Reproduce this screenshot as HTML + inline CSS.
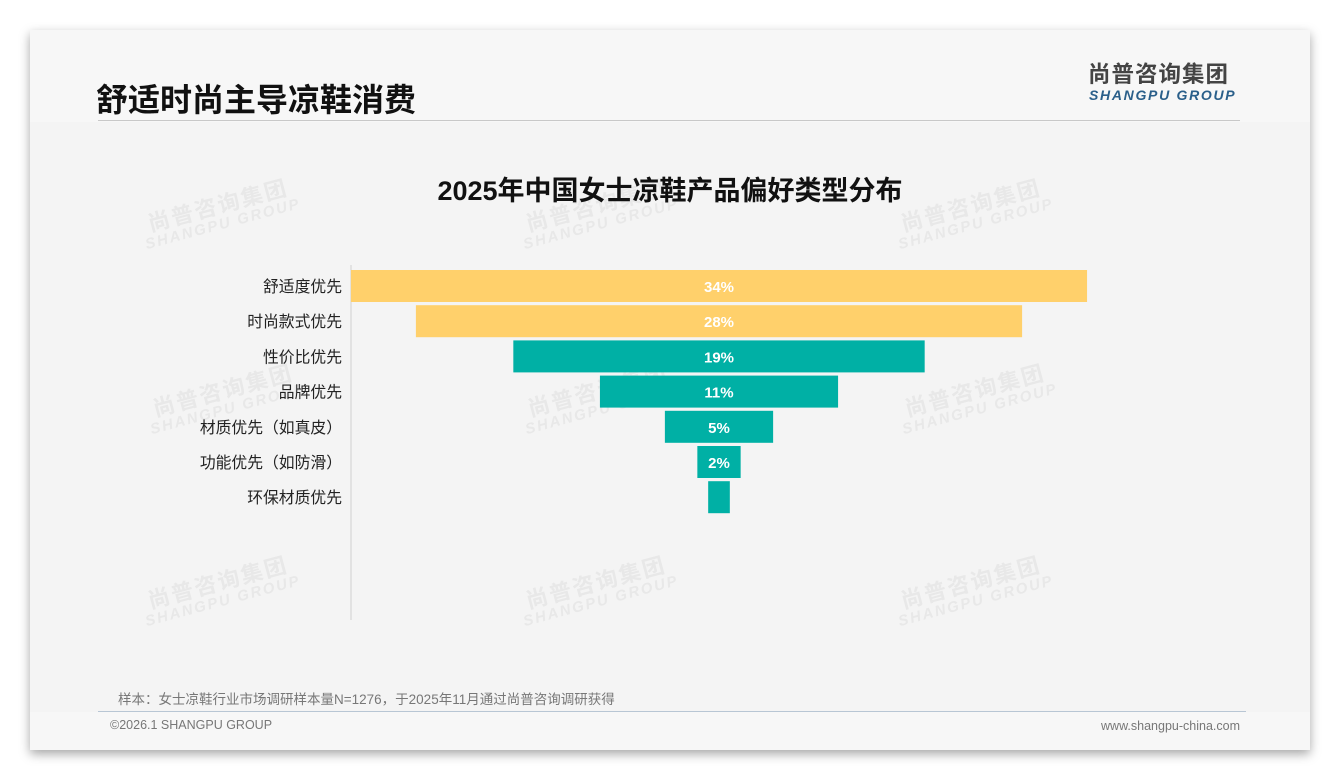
<!DOCTYPE html>
<html><head><meta charset="utf-8">
<style>
body{margin:0;width:1340px;height:780px;background:#fff;position:relative;overflow:hidden;font-family:"Liberation Sans","Noto Sans CJK SC",sans-serif}
#card{position:absolute;left:30px;top:30px;width:1280px;height:720px;background:#f4f4f4;box-shadow:0 4px 10px rgba(0,0,0,.35)}
.abs{position:absolute}
.wm{position:absolute;color:#e8e8e8;font-weight:bold;transform:rotate(-15deg);line-height:1;text-align:center}
.wm .a{font-size:22px;letter-spacing:2px}.wm .b{font-size:15px;letter-spacing:2px;font-style:italic}
</style></head><body>
<div id="card">
<div class="abs" style="left:0;top:0;width:1280px;height:92px;background:#f7f7f7"></div>
<div class="abs" style="left:0;top:682px;width:1280px;height:38px;background:#f7f7f7"></div>
</div>
<div id="wms"></div>
<div class="abs" style="left:96px;top:75px;font-size:32px;font-weight:bold;color:#111">舒适时尚主导凉鞋消费</div>
<div class="abs" style="left:1088px;top:64px;font-size:22.5px;line-height:1;font-weight:bold;color:#444;letter-spacing:1px">尚普咨询集团</div>
<div class="abs" style="left:1089px;top:88px;font-size:14px;line-height:1;font-weight:bold;font-style:italic;color:#2a5f8a;letter-spacing:1.7px">SHANGPU GROUP</div>
<div class="abs" style="left:98px;top:120px;width:1142px;height:1px;background:#c8c8c8"></div>
<div class="abs" style="left:0;top:169px;width:1340px;text-align:center;font-size:27px;font-weight:bold;color:#111">2025年中国女士凉鞋产品偏好类型分布</div>
<svg class="abs" style="left:0;top:0" width="1340" height="780" id="chart"></svg>
<div class="abs" style="left:118px;top:688px;font-size:13.5px;color:#777">样本：女士凉鞋行业市场调研样本量N=1276，于2025年11月通过尚普咨询调研获得</div>
<div class="abs" style="left:98px;top:711px;width:1148px;height:1px;background:#b8c6d4"></div>
<div class="abs" style="left:110px;top:718px;font-size:12.5px;color:#777">©2026.1 SHANGPU GROUP</div>
<div class="abs" style="right:100px;top:719px;font-size:12.5px;color:#777">www.shangpu-china.com</div>
<script>
const categories=["舒适度优先","时尚款式优先","性价比优先","品牌优先","材质优先（如真皮）","功能优先（如防滑）","环保材质优先"];
const values=[34,28,19,11,5,2,1];
const labels=["34%","28%","19%","11%","5%","2%",""];
const colors=["#FFD06B","#FFD06B","#00B0A5","#00B0A5","#00B0A5","#00B0A5","#00B0A5"];
const NS="http://www.w3.org/2000/svg";
const svg=document.getElementById('chart');
const cx=719,scale=21.65,top0=270,step=35.2,bh=32;
const x=v=>v*scale, y=i=>top0+i*step;
const ax=document.createElementNS(NS,'line');
ax.setAttribute('x1',351);ax.setAttribute('x2',351);ax.setAttribute('y1',265);ax.setAttribute('y2',620);
ax.setAttribute('stroke','#d0d0d0');


svg.appendChild(ax);
categories.forEach((c,i)=>{
 const w=x(values[i]);
 const r=document.createElementNS(NS,'rect');
 r.setAttribute('x',cx-w/2);r.setAttribute('y',y(i));r.setAttribute('width',w);r.setAttribute('height',bh);r.setAttribute('fill',colors[i]);
 
 
 svg.appendChild(r);
 const t=document.createElementNS(NS,'text');
 t.setAttribute('x',342);t.setAttribute('y',y(i)+bh/2+6);t.setAttribute('text-anchor','end');t.setAttribute('font-size','15.8');t.setAttribute('fill','#222');
 t.textContent=c;
 
 
 svg.appendChild(t);
 if(labels[i]){
 const v=document.createElementNS(NS,'text');
 v.setAttribute('x',cx);v.setAttribute('y',y(i)+bh/2+6);v.setAttribute('text-anchor','middle');v.setAttribute('font-size','15');v.setAttribute('font-weight','bold');v.setAttribute('fill','#fff');
 v.textContent=labels[i];
 
 
 svg.appendChild(v);}
});
const wpos=[[140,195],[518,195],[893,195],[145,380],[520,380],[897,380],[140,572],[518,572],[893,572]];
const wc=document.getElementById('wms');
wpos.forEach(p=>{const d=document.createElement('div');d.className='wm';d.style.left=p[0]+'px';d.style.top=p[1]+'px';
d.innerHTML='<div class="a">尚普咨询集团</div><div class="b">SHANGPU GROUP</div>';


wc.appendChild(d);});
</script>
</body></html>
